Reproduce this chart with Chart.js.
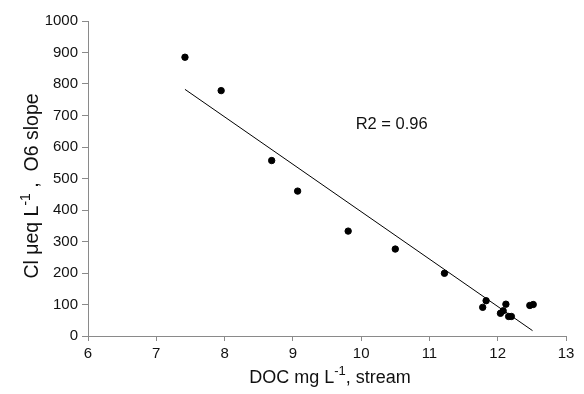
<!DOCTYPE html>
<html>
<head>
<meta charset="utf-8">
<script src="https://cdn.jsdelivr.net/npm/chart.js@4.4.1/dist/chart.umd.min.js"></script>
<style>
  html, body { margin: 0; padding: 0; background: #fff; }
  #wrap { width: 584px; height: 394px; }
</style>
</head>
<body>
<div id="wrap"><canvas id="chart"></canvas></div>
<script>
// stream DOC (mg/L) vs Cl slope values
const docValues = [7.42, 7.95, 8.69, 9.07, 9.81, 10.50, 11.22, 11.78, 11.83, 12.04, 12.08, 12.12, 12.16, 12.20, 12.47, 12.52];
const clValues = [885, 779, 557, 460, 333, 276, 199, 91, 112, 72, 80, 101, 62, 62, 97, 100];

// fitted line end points
const trendX = [7.42, 12.51];
const trendY = [783, 17];

const xTicks = [6, 7, 8, 9, 10, 11, 12, 13];
const yTicks = [0, 100, 200, 300, 400, 500, 600, 700, 800, 900, 1000];
const r2Label = 'R2 = 0.96';

const FONT = '"Liberation Sans", Arial, Helvetica, sans-serif';
const AXIS_GRAY = '#8a8a8a';

// draws text with a superscript part: parts = [[text, isSup], ...]
function drawRich(ctx, parts, size) {
  const supSize = Math.round(size * 0.7);
  let total = 0;
  parts.forEach(p => {
    ctx.font = (p[1] ? supSize : size) + 'px ' + FONT;
    total += ctx.measureText(p[0]).width;
  });
  let x = -total / 2;
  parts.forEach(p => {
    ctx.font = (p[1] ? supSize : size) + 'px ' + FONT;
    ctx.fillText(p[0], x, p[1] ? -size * 0.42 : 0);
    x += ctx.measureText(p[0]).width;
  });
}

const labelsPlugin = {
  id: 'labels',
  afterDraw(chart) {
    const ctx = chart.ctx;
    const xs = chart.scales.x;
    const ys = chart.scales.y;
    ctx.save();
    ctx.fillStyle = '#111';
    ctx.textBaseline = 'alphabetic';
    ctx.textAlign = 'left';

    // R2 annotation
    ctx.font = '16.5px ' + FONT;
    ctx.fillText(r2Label, xs.getPixelForValue(9.92), ys.getPixelForValue(657));

    // x title
    ctx.save();
    ctx.translate(330, 383);
    drawRich(ctx, [['DOC mg L', false], ['-1', true], [', stream', false]], 18);
    ctx.restore();

    // y title
    ctx.save();
    ctx.translate(38, 186);
    ctx.rotate(-Math.PI / 2);
    drawRich(ctx, [['Cl \u03bceq L', false], ['-1', true], [' ,  O6 slope', false]], 19.5);
    ctx.restore();

    ctx.restore();
  }
};

new Chart(document.getElementById('chart'), {
  type: 'scatter',
  data: {
    datasets: [
      {
        label: 'Cl slope',
        data: docValues.map((x, i) => ({ x: x, y: clValues[i] })),
        backgroundColor: '#000',
        borderColor: '#000',
        pointRadius: 3.2,
        pointHoverRadius: 3.2
      },
      {
        label: 'fit',
        type: 'line',
        data: trendX.map((x, i) => ({ x: x, y: trendY[i] })),
        borderColor: '#000',
        borderWidth: 1,
        pointRadius: 0,
        fill: false
      }
    ]
  },
  options: {
    responsive: true,
    maintainAspectRatio: false,
    animation: false,
    layout: { padding: { top: 21, right: 18, left: 0, bottom: 0 } },
    plugins: {
      legend: { display: false },
      tooltip: { enabled: false }
    },
    scales: {
      x: {
        type: 'linear',
        min: 6,
        max: 13,
        afterBuildTicks: s => { s.ticks = xTicks.map(v => ({ value: v })); },
        afterFit: s => { s.height = 58; },
        grid: { drawOnChartArea: false, drawTicks: true, tickLength: 5, color: AXIS_GRAY },
        border: { color: AXIS_GRAY, width: 1 },
        ticks: { color: '#111', padding: 4, font: { family: FONT, size: 15 }, maxRotation: 0,
                 callback: v => String(v) }
      },
      y: {
        type: 'linear',
        min: 0,
        max: 1000,
        afterBuildTicks: s => { s.ticks = yTicks.map(v => ({ value: v })); },
        afterFit: s => { s.width = 88; },
        grid: { drawOnChartArea: false, drawTicks: true, tickLength: 6, color: AXIS_GRAY },
        border: { color: AXIS_GRAY, width: 1 },
        ticks: { color: '#111', padding: 4, font: { family: FONT, size: 15 },
                 callback: v => String(v) }
      }
    }
  },
  plugins: [labelsPlugin]
});
</script>
</body>
</html>
